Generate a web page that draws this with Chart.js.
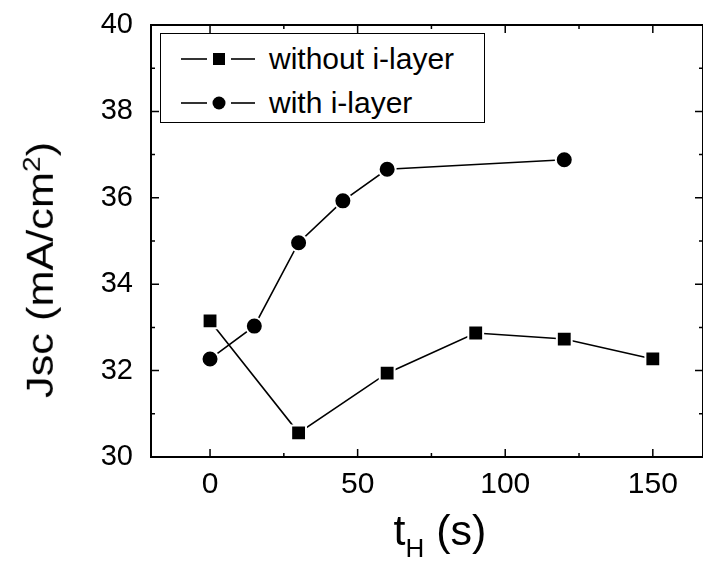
<!DOCTYPE html>
<html>
<head>
<meta charset="utf-8">
<script src="https://cdn.jsdelivr.net/npm/chart.js@4.4.0/dist/chart.umd.min.js"></script>
<style>
  body { margin: 0; background: #fff; }
  #wrap { position: relative; width: 703px; height: 567px; overflow: hidden; font-family: "Liberation Sans", Arial, sans-serif; }
  #legend { position: absolute; left: 160px; top: 33px; width: 323px; height: 88px; border: 1.5px solid #000; background: #fff; }
  .row { position: absolute; left: 20px; height: 30px; display: flex; align-items: center; font-size: 30px; color: #000; }
  .row svg { margin-right: 14px; }
  #xtitle { position: absolute; left: 0; width: 880px; top: 506px; text-align: center; font-size: 43px; }
  #xtitle sub { font-size: 26px; vertical-align: -12px; }
  #ytitle { position: absolute; left: 40px; top: 270px; font-size: 37px; white-space: nowrap; transform: translate(-50%, -50%) rotate(-90deg) scale(1.17, 1); }
</style>
</head>
<body>
<div id="wrap">
  <canvas id="c" width="703" height="567"></canvas>
  <div id="legend"></div>
  <div id="ytitle">Jsc (mA/cm<sup style="font-size:24px">2</sup>)</div>
  <div id="xtitle">t<sub>H</sub> (s)</div>
</div>
<script>
// data
const withoutX = [0, 30, 60, 90, 120, 150];
const withoutY = [33.15, 30.56, 31.94, 32.87, 32.73, 32.27];
const withX = [0, 15, 30, 45, 60, 120];
const withY = [32.27, 33.03, 34.96, 35.93, 36.66, 36.88];
const seriesNames = ['without i-layer', 'with i-layer'];
const xMajor = [0, 50, 100, 150];
const xMinor = [25, 75, 125];
const yMajor = [30, 32, 34, 36, 38, 40];
const yMinor = [31, 33, 35, 37, 39];

function pts(xs, ys) { return xs.map((x, i) => ({x: x, y: ys[i]})); }

const font = { family: '"Liberation Sans", Arial, sans-serif' };

// frame + inward ticks, like the original origin plot
const framePlugin = {
  id: 'frame',
  afterDraw(chart) {
    const ctx = chart.ctx, a = chart.chartArea;
    const xs = chart.scales.x, ys = chart.scales.y;
    ctx.save();
    ctx.strokeStyle = '#000';
    ctx.lineWidth = 2;
    ctx.strokeRect(a.left, a.top, a.right - a.left, a.bottom - a.top);
    ctx.lineWidth = 1.5;
    ctx.beginPath();
    const tx = (v, len) => {
      const p = xs.getPixelForValue(v);
      ctx.moveTo(p, a.bottom); ctx.lineTo(p, a.bottom - len);
      ctx.moveTo(p, a.top); ctx.lineTo(p, a.top + len);
    };
    const ty = (v, len) => {
      const p = ys.getPixelForValue(v);
      ctx.moveTo(a.left, p); ctx.lineTo(a.left + len, p);
      ctx.moveTo(a.right, p); ctx.lineTo(a.right - len, p);
    };
    xMajor.forEach(v => tx(v, 8));
    xMinor.forEach(v => tx(v, 4));
    yMajor.forEach(v => ty(v, 8));
    yMinor.forEach(v => ty(v, 4));
    ctx.stroke();
    ctx.restore();
  }
};

const chart = new Chart(document.getElementById('c'), {
  type: 'scatter',
  data: {
    datasets: [
      {
        label: seriesNames[0],
        data: pts(withoutX, withoutY),
        showLine: true,
        borderColor: '#000',
        borderWidth: 1.6,
        pointStyle: 'rect',
        pointRadius: 10.5,
        pointBackgroundColor: '#000',
        pointBorderColor: '#fff',
        pointBorderWidth: 2
      },
      {
        label: seriesNames[1],
        data: pts(withX, withY),
        showLine: true,
        borderColor: '#000',
        borderWidth: 1.6,
        pointStyle: 'circle',
        pointRadius: 8.5,
        pointBackgroundColor: '#000',
        pointBorderColor: '#fff',
        pointBorderWidth: 2
      }
    ]
  },
  options: {
    responsive: false,
    devicePixelRatio: 1,
    animation: false,
    layout: { autoPadding: false, padding: { top: 25, right: 0, left: 0, bottom: 0 } },
    plugins: { legend: { display: false }, tooltip: { enabled: false } },
    scales: {
      x: {
        type: 'linear',
        min: -20,
        max: 167,
        afterBuildTicks: s => { s.ticks = xMajor.map(v => ({value: v})); },
        afterFit: s => { s.height = 110; s.paddingLeft = 0; s.paddingRight = 0; },
        grid: { display: false, drawTicks: false },
        border: { display: false },
        ticks: { color: '#000', padding: 10, font: Object.assign({size: 30}, font) }
      },
      y: {
        min: 30,
        max: 40,
        afterBuildTicks: s => { s.ticks = yMajor.map(v => ({value: v})); },
        afterFit: s => { s.width = 151; s.paddingTop = 0; s.paddingBottom = 0; },
        grid: { display: false, drawTicks: false },
        border: { display: false },
        ticks: { color: '#000', padding: 18, font: Object.assign({size: 29}, font) }
      }
    }
  },
  plugins: [framePlugin]
});

// legend box built from the datasets
const legend = document.getElementById('legend');
chart.data.datasets.forEach((ds, i) => {
  const row = document.createElement('div');
  row.className = 'row';
  row.style.top = (10 + i * 44) + 'px';
  const mark = ds.pointStyle === 'rect'
    ? '<rect x="32" y="4" width="12" height="12" fill="#000"/>'
    : '<circle cx="38" cy="10" r="6.5" fill="#000"/>';
  row.innerHTML = '<svg width="74" height="20"><line x1="0" y1="10" x2="26" y2="10" stroke="#000" stroke-width="1.6"/>' +
    mark + '<line x1="50" y1="10" x2="74" y2="10" stroke="#000" stroke-width="1.6"/></svg><span>' + ds.label + '</span>';
  legend.appendChild(row);
});
</script>
</body>
</html>
